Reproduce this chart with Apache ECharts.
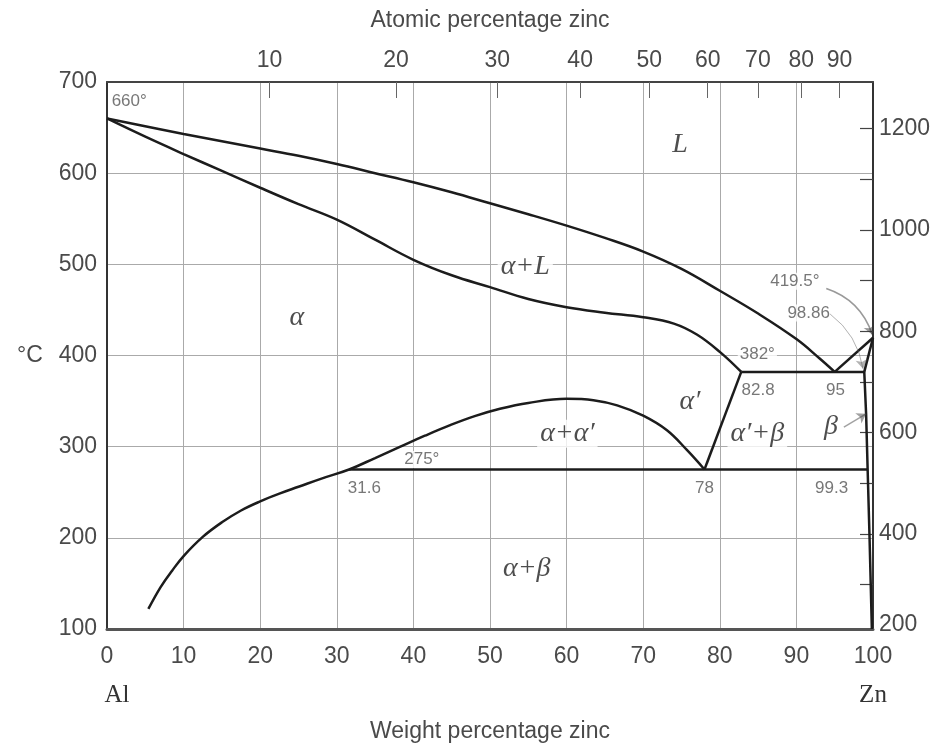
<!DOCTYPE html>
<html><head><meta charset="utf-8">
<script src="https://cdn.jsdelivr.net/npm/echarts@6/dist/echarts.min.js"></script>
<style>html,body{margin:0;padding:0;background:#fff}#c{width:937px;height:748px}</style>
</head><body><div id="c"></div>
<script>
// ---- axis data ----
const weightTicks = [0,10,20,30,40,50,60,70,80,90,100];
const atomicLabels = [10,20,30,40,50,60,70,80,90];
const fahrenheitTicks = [300,400,500,600,700,800,900,1000,1100,1200];
const fahrenheitLabels = [200,400,600,800,1000,1200];
const MASS_ZN = 65.38, MASS_AL = 26.98;

// ---- phase boundaries (weight % Zn, °C) ----
const liquidusWt = [0,10,20,25,30,35,40,45,50,55,60,65,70,75,80,85,90,93,95];
const liquidusC  = [660,643,627,619,610,600,590,579,567,555,542.5,529,514,495,471,446,418,397,382];
const solidusWt  = [0,5,10,15,20,25,30,35,40,45,50,55,60,65,70,74,77,80,82.8];
const solidusC   = [660,640,621,602.5,584,566,549,527,505,488,475,462,453,447,442,435,423,404,382];
const solvusWt   = [5.4,7,8.5,10,12.5,15,17.5,20,22.5,25,28,31.6,35,38.3,41.5,44.8,48,51.3,55,60,63.5,66.6,70,73.1,75.7,78];
const solvusC    = [122,146,164,180,201,217,230,240,248.5,256,265,275,287.5,300,312,323.6,333.5,341.6,348,352.5,351,345.3,334,318,296.4,275];
const alphaPrimeWt = [78,82.8];
const alphaPrimeC  = [275,382];
const eutecticWt = [82.8,98.86];
const eutecticC  = [382,382];
const eutectoidWt = [31.6,99.3];
const eutectoidC  = [275,275];
const liqRightWt = [95,100];
const liqRightC  = [382,419.5];
const znSolidusWt = [98.86,100];
const znSolidusC  = [382,419.5];
const betaSolvusWt = [98.86,99.1,99.3,99.55,99.85];
const betaSolvusC  = [382,336,275,200,100];

// ---- annotations ----
const regionNames = ['L','α+L','α','α′','α+α′','α′+β','α+β','β'];
const regionWt    = [74.8,54.6,24.8,76.1,60.1,84.9,54.8,94.5];
const regionC     = [631.5,497.8,441.3,348.9,314.1,314.1,166.3,321.7];
const noteTexts = ['660°','382°','82.8','95','275°','31.6','78','99.3','419.5°','98.86'];
const noteWt    = [2.9,84.9,85.0,95.1,41.1,33.6,78.0,94.6,89.8,91.6];
const noteC     = [679.3,401.1,362.0,362.0,285.9,254.3,254.3,254.3,481.5,446.7];
// arrows: [fromWt, fromC, toWt, toC]
const arrow4195 = [93.9,473.5,99.9,423];
const arrow9886 = [94.4,445.5,98.7,385.5];
const arrowBeta = [96.2,321.5,99.1,336];

const pairs = (xs, ys) => xs.map((x, i) => [x, ys[i]]);
const atomicToWeight = a => 100 * a * MASS_ZN / (a * MASS_ZN + (100 - a) * MASS_AL);
const atomicPos = atomicLabels.map(atomicToWeight);
const cToF = c => c * 9 / 5 + 32;
const fMin = cToF(100), fMax = cToF(700);

const SANS = "'Liberation Sans',Arial,sans-serif";
const SERIF = "'Liberation Serif','DejaVu Serif',serif";
const TXT = '#4a4a4a';
const LINE = '#1c1c1c';
const FS = 23;

const boundary = (xs, ys, smooth) => ({
  type: 'line', xAxisIndex: 0, yAxisIndex: 0, z: 5,
  data: pairs(xs, ys), showSymbol: false, symbol: 'none',
  smooth: smooth ? 0.4 : false,
  lineStyle: {color: LINE, width: 2.5}, silent: true
});

const arrow = (a, color, width, curv) => ({
  coords: [[a[0], a[1]], [a[2], a[3]]],
  lineStyle: {color: color, width: width, curveness: curv}
});

const chart = echarts.init(document.getElementById('c'), null, {renderer: 'canvas'});
chart.setOption({
  animation: false,
  backgroundColor: '#fff',
  grid: {left: 107, right: 64, top: 82, bottom: 114, containLabel: false},
  xAxis: [{
    type: 'value', position: 'bottom', min: 0, max: 100, interval: 10,
    axisLine: {show: true, onZero: false, lineStyle: {color: '#555', width: 3}},
    axisTick: {show: false},
    splitLine: {show: true, lineStyle: {color: '#aaa', width: 1}},
    axisLabel: {
      margin: 14, color: TXT, fontFamily: SANS, fontSize: FS,
      formatter: v => v === 0 ? '{n|0}\n{a|Al}' : (v === 100 ? '{n|100}\n{z|Zn}' : '{n|' + v + '}'),
      rich: {
        n: {fontFamily: SANS, fontSize: FS, color: TXT, lineHeight: 28},
        a: {fontFamily: SERIF, fontSize: 25, color: '#333', lineHeight: 48, padding: [0, 0, 0, 20]},
        z: {fontFamily: SERIF, fontSize: 25, color: '#333', lineHeight: 48}
      }
    },
    name: 'Weight percentage zinc', nameLocation: 'middle', nameGap: 91,
    nameTextStyle: {fontFamily: SANS, fontSize: FS, color: TXT}
  }, {
    type: 'value', position: 'top', min: 0, max: 100,
    axisLine: {show: true, onZero: false, lineStyle: {color: '#444', width: 2}},
    axisTick: {show: true, inside: true, length: 16, customValues: atomicPos,
      lineStyle: {color: '#666', width: 1}},
    splitLine: {show: false},
    axisLabel: {
      margin: 10, color: TXT, fontFamily: SANS, fontSize: FS, customValues: atomicPos,
      formatter: v => {
        const i = atomicPos.findIndex(p => Math.abs(p - v) < 1e-6);
        return i >= 0 ? String(atomicLabels[i]) : '';
      }
    },
    name: 'Atomic percentage zinc', nameLocation: 'middle', nameGap: 50,
    nameTextStyle: {fontFamily: SANS, fontSize: FS, color: TXT}
  }],
  yAxis: [{
    type: 'value', position: 'left', min: 100, max: 700, interval: 100,
    axisLine: {show: true, onZero: false, lineStyle: {color: '#333', width: 2}},
    axisTick: {show: false},
    splitLine: {show: true, lineStyle: {color: '#aaa', width: 1}},
    axisLabel: {margin: 10, color: TXT, fontFamily: SANS, fontSize: FS},
    name: '°C', nameLocation: 'middle', nameRotate: 0, nameGap: 77,
    nameTextStyle: {fontFamily: SANS, fontSize: FS, color: TXT, align: 'center'}
  }, {
    type: 'value', position: 'right', min: fMin, max: fMax,
    axisLine: {show: true, onZero: false, lineStyle: {color: '#333', width: 2}},
    axisTick: {show: true, inside: true, length: 13, customValues: fahrenheitTicks,
      lineStyle: {color: '#444', width: 1.2}},
    splitLine: {show: false},
    axisLabel: {
      margin: 6, color: TXT, fontFamily: SANS, fontSize: FS,
      customValues: fahrenheitLabels.map(f => Math.max(f, fMin)),
      formatter: v => {
        const f = fahrenheitLabels.find(x => Math.max(x, fMin) === v);
        return f < fMin ? '{b|' + f + '}' : '{n|' + f + '}';
      },
      rich: {
        n: {fontFamily: SANS, fontSize: FS, color: TXT},
        b: {fontFamily: SANS, fontSize: FS, color: TXT, padding: [0, 0, 9, 0]}
      }
    }
  }],
  series: [
    boundary(liquidusWt, liquidusC, true),
    boundary(solidusWt, solidusC, true),
    boundary(solvusWt, solvusC, true),
    boundary(alphaPrimeWt, alphaPrimeC, false),
    boundary(eutecticWt, eutecticC, false),
    boundary(eutectoidWt, eutectoidC, false),
    boundary(liqRightWt, liqRightC, false),
    boundary(znSolidusWt, znSolidusC, false),
    boundary(betaSolvusWt, betaSolvusC, false),
    {
      type: 'scatter', xAxisIndex: 0, yAxisIndex: 0, z: 2, symbolSize: 0, silent: true,
      data: regionNames.map((n, i) => ({name: n, value: [regionWt[i], regionC[i]]})),
      label: {show: true, position: 'inside', formatter: p => p.name,
        fontFamily: SERIF, fontStyle: 'italic', fontSize: 28, color: '#222',
        backgroundColor: '#fff', padding: [0, 3]}
    },
    {
      type: 'scatter', xAxisIndex: 0, yAxisIndex: 0, z: 2, symbolSize: 0, silent: true,
      data: noteTexts.map((n, i) => ({name: n, value: [noteWt[i], noteC[i]]})),
      label: {show: true, position: 'inside', formatter: p => p.name,
        fontFamily: SANS, fontSize: 17, color: '#555',
        backgroundColor: '#fff', padding: [0, 2]}
    },
    {
      type: 'lines', coordinateSystem: 'cartesian2d', xAxisIndex: 0, yAxisIndex: 0, z: 6,
      symbol: ['none', 'arrow'], symbolSize: 9, silent: true,
      data: [
        arrow(arrow4195, '#333', 1.6, 0.25),
        arrow(arrow9886, '#666', 1, 0.2),
        arrow(arrowBeta, '#444', 1.4, 0)
      ]
    }
  ]
});
</script>
</body></html>
